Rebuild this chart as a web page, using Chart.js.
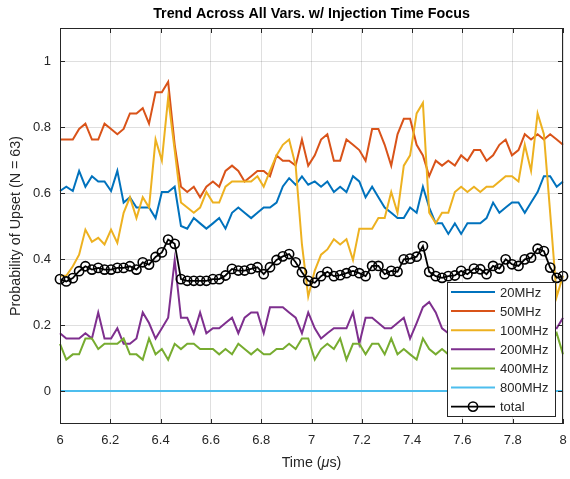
<!DOCTYPE html>
<html>
<head>
<meta charset="utf-8">
<title>Trend Across All Vars. w/ Injection Time Focus</title>
<script src="https://cdn.jsdelivr.net/npm/chart.js@4.4.1/dist/chart.umd.min.js"></script>
<style>
  html, body { margin: 0; padding: 0; background: #fff; }
  canvas { display: block; }
</style>
</head>
<body>
<canvas id="trendChart" width="570" height="479"></canvas>
<script>
// sample times (us), 80 samples between 6 and 8
var times = [
  6.000, 6.025, 6.051, 6.076, 6.101, 6.127, 6.152, 6.177, 6.203, 6.228,
  6.253, 6.278, 6.304, 6.329, 6.354, 6.380, 6.405, 6.430, 6.456, 6.481,
  6.506, 6.532, 6.557, 6.582, 6.608, 6.633, 6.658, 6.684, 6.709, 6.734,
  6.760, 6.785, 6.810, 6.835, 6.861, 6.886, 6.911, 6.937, 6.962, 6.987,
  7.013, 7.038, 7.063, 7.089, 7.114, 7.139, 7.165, 7.190, 7.215, 7.241,
  7.266, 7.291, 7.317, 7.342, 7.367, 7.392, 7.418, 7.443, 7.468, 7.494,
  7.519, 7.544, 7.570, 7.595, 7.620, 7.646, 7.671, 7.696, 7.722, 7.747,
  7.772, 7.797, 7.823, 7.848, 7.873, 7.899, 7.924, 7.949, 7.975, 8.000
];

var p20MHz = [
  0.606, 0.619, 0.606, 0.667, 0.619, 0.651, 0.635, 0.635, 0.606, 0.667,
  0.571, 0.587, 0.556, 0.556, 0.556, 0.524, 0.603, 0.603, 0.619, 0.500,
  0.492, 0.524, 0.508, 0.492, 0.508, 0.524, 0.492, 0.540, 0.556, 0.540,
  0.524, 0.540, 0.556, 0.556, 0.571, 0.620, 0.645, 0.625, 0.650, 0.625,
  0.635, 0.619, 0.635, 0.603, 0.619, 0.603, 0.651, 0.635, 0.587, 0.619,
  0.587, 0.556, 0.540, 0.524, 0.524, 0.556, 0.540, 0.619, 0.556, 0.508,
  0.508, 0.476, 0.508, 0.476, 0.508, 0.508, 0.508, 0.524, 0.571, 0.540,
  0.556, 0.571, 0.571, 0.540, 0.571, 0.603, 0.651, 0.651, 0.619, 0.635
];

var p50MHz = [
  0.762, 0.762, 0.762, 0.794, 0.810, 0.762, 0.762, 0.810, 0.794, 0.778,
  0.794, 0.841, 0.841, 0.857, 0.810, 0.905, 0.905, 0.937, 0.746, 0.619,
  0.603, 0.619, 0.587, 0.619, 0.635, 0.619, 0.667, 0.683, 0.667, 0.635,
  0.651, 0.667, 0.667, 0.651, 0.714, 0.698, 0.698, 0.683, 0.762, 0.683,
  0.714, 0.762, 0.778, 0.698, 0.698, 0.762, 0.746, 0.730, 0.698, 0.794,
  0.794, 0.746, 0.683, 0.778, 0.825, 0.825, 0.746, 0.714, 0.651, 0.698,
  0.683, 0.698, 0.683, 0.714, 0.698, 0.730, 0.730, 0.698, 0.714, 0.746,
  0.762, 0.714, 0.730, 0.778, 0.762, 0.778, 0.762, 0.778, 0.762, 0.746
];

var p100MHz = [
  0.349, 0.349, 0.378, 0.413, 0.489, 0.452, 0.464, 0.444, 0.489, 0.449,
  0.540, 0.587, 0.524, 0.587, 0.556, 0.762, 0.698, 0.889, 0.730, 0.571,
  0.556, 0.540, 0.556, 0.603, 0.571, 0.571, 0.619, 0.635, 0.635, 0.635,
  0.635, 0.651, 0.619, 0.667, 0.714, 0.746, 0.762, 0.683, 0.444, 0.286,
  0.365, 0.413, 0.429, 0.460, 0.444, 0.460, 0.397, 0.492, 0.492, 0.492,
  0.524, 0.524, 0.603, 0.540, 0.683, 0.714, 0.841, 0.873, 0.540, 0.508,
  0.540, 0.540, 0.603, 0.619, 0.603, 0.619, 0.603, 0.619, 0.619, 0.635,
  0.651, 0.651, 0.635, 0.746, 0.667, 0.841, 0.778, 0.540, 0.286, 0.349
];

var p200MHz = [
  0.175, 0.159, 0.159, 0.159, 0.175, 0.159, 0.238, 0.159, 0.159, 0.190,
  0.143, 0.143, 0.159, 0.238, 0.206, 0.159, 0.190, 0.222, 0.397, 0.222,
  0.222, 0.175, 0.238, 0.175, 0.190, 0.190, 0.206, 0.222, 0.175, 0.222,
  0.238, 0.238, 0.175, 0.254, 0.254, 0.254, 0.238, 0.222, 0.175, 0.238,
  0.190, 0.159, 0.175, 0.190, 0.190, 0.190, 0.238, 0.143, 0.222, 0.222,
  0.206, 0.190, 0.190, 0.206, 0.222, 0.159, 0.206, 0.254, 0.270, 0.238,
  0.190, 0.175, 0.190, 0.206, 0.222, 0.190, 0.206, 0.175, 0.206, 0.222,
  0.190, 0.206, 0.238, 0.206, 0.190, 0.222, 0.206, 0.200, 0.190, 0.222
];

var p400MHz = [
  0.143, 0.095, 0.111, 0.111, 0.159, 0.159, 0.127, 0.143, 0.143, 0.143,
  0.159, 0.111, 0.111, 0.095, 0.159, 0.111, 0.127, 0.095, 0.143, 0.127,
  0.143, 0.143, 0.127, 0.127, 0.127, 0.111, 0.127, 0.111, 0.143, 0.127,
  0.111, 0.127, 0.111, 0.111, 0.127, 0.127, 0.143, 0.127, 0.159, 0.159,
  0.095, 0.127, 0.143, 0.127, 0.159, 0.095, 0.143, 0.143, 0.111, 0.143,
  0.143, 0.111, 0.159, 0.111, 0.127, 0.111, 0.095, 0.159, 0.127, 0.111,
  0.127, 0.111, 0.127, 0.143, 0.127, 0.143, 0.127, 0.111, 0.143, 0.127,
  0.159, 0.143, 0.127, 0.143, 0.127, 0.143, 0.159, 0.143, 0.175, 0.111
];

var p800MHz = [
  0, 0, 0, 0, 0, 0, 0, 0, 0, 0,
  0, 0, 0, 0, 0, 0, 0, 0, 0, 0,
  0, 0, 0, 0, 0, 0, 0, 0, 0, 0,
  0, 0, 0, 0, 0, 0, 0, 0, 0, 0,
  0, 0, 0, 0, 0, 0, 0, 0, 0, 0,
  0, 0, 0, 0, 0, 0, 0, 0, 0, 0,
  0, 0, 0, 0, 0, 0, 0, 0, 0, 0,
  0, 0, 0, 0, 0, 0, 0, 0, 0, 0
];

var pTotal = [
  0.339, 0.332, 0.342, 0.363, 0.378, 0.368, 0.373, 0.368, 0.368, 0.373,
  0.373, 0.378, 0.368, 0.390, 0.383, 0.406, 0.420, 0.459, 0.446, 0.339,
  0.334, 0.334, 0.334, 0.334, 0.339, 0.339, 0.350, 0.370, 0.365, 0.365,
  0.370, 0.375, 0.354, 0.375, 0.397, 0.408, 0.415, 0.390, 0.360, 0.334,
  0.328, 0.348, 0.361, 0.348, 0.351, 0.357, 0.364, 0.357, 0.348, 0.379,
  0.379, 0.354, 0.364, 0.361, 0.399, 0.401, 0.407, 0.439, 0.361, 0.348,
  0.343, 0.348, 0.350, 0.364, 0.354, 0.371, 0.369, 0.354, 0.379, 0.371,
  0.399, 0.384, 0.379, 0.399, 0.404, 0.431, 0.424, 0.374, 0.343, 0.348
];

var seriesNames = ['20MHz', '50MHz', '100MHz', '200MHz', '400MHz', '800MHz', 'total'];
var seriesColors = ['#0072BD', '#D95319', '#EDB120', '#7E2F8E', '#77AC30', '#4DBEEE', '#000000'];
var xTicks = [6, 6.2, 6.4, 6.6, 6.8, 7, 7.2, 7.4, 7.6, 7.8, 8];
var yTicks = [0, 0.2, 0.4, 0.6, 0.8, 1];

var FONT = "'Liberation Sans', Arial, Helvetica, sans-serif";
var INK = '#262626';

function pairs(values) {
    return times.map(function (t, i) { return { x: t, y: values[i] }; });
}

var allValues = [p20MHz, p50MHz, p100MHz, p200MHz, p400MHz, p800MHz, pTotal];

var datasets = allValues.map(function (vals, k) {
    var isTotal = seriesNames[k] === 'total';
    return {
        label: seriesNames[k],
        data: pairs(vals),
        borderColor: seriesColors[k],
        backgroundColor: seriesColors[k],
        borderWidth: isTotal ? 1.8 : 2,
        pointRadius: isTotal ? 4.6 : 0,
        pointBorderWidth: 1.6,
        pointBorderColor: '#000',
        pointBackgroundColor: 'rgba(0,0,0,0)',
        tension: 0,
        fill: false,
        clip: false,
        order: seriesNames.length - 1 - k   // later series drawn on top, like MATLAB
    };
});

// axes box, inward ticks, title, axis labels and the legend box
var matlabFrame = {
    id: 'matlabFrame',
    afterDraw: function (chart) {
        var c = chart.ctx;
        var a = chart.chartArea;
        var xs = chart.scales.x, ys = chart.scales.y;
        c.save();

        c.strokeStyle = INK;
        c.lineWidth = 1;
        c.beginPath();
        xTicks.forEach(function (v) {
            var px = Math.round(xs.getPixelForValue(v)) + 0.5;
            c.moveTo(px, a.bottom); c.lineTo(px, a.bottom - 5);
            c.moveTo(px, a.top); c.lineTo(px, a.top + 5);
        });
        yTicks.forEach(function (v) {
            var py = Math.round(ys.getPixelForValue(v)) + 0.5;
            c.moveTo(a.left, py); c.lineTo(a.left + 5, py);
            c.moveTo(a.right, py); c.lineTo(a.right - 5, py);
        });
        c.stroke();
        c.strokeRect(a.left + 0.5, a.top + 0.5, a.right - a.left - 1, a.bottom - a.top - 1);

        // title
        var midX = (a.left + a.right) / 2;
        c.fillStyle = '#000';
        c.font = 'bold 14.3px ' + FONT;
        c.textAlign = 'center';
        c.textBaseline = 'middle';
        c.fillText('Trend Across All Vars. w/ Injection Time Focus', midX, 14);

        // x label with italic mu
        c.fillStyle = INK;
        var normal = '14.3px ' + FONT, italic = 'italic 14.3px ' + FONT;
        var parts = [['Time (', normal], ['\u03bc', italic], ['s)', normal]];
        var total = 0;
        parts.forEach(function (p) { c.font = p[1]; total += c.measureText(p[0]).width; });
        var x0 = midX - total / 2;
        c.textAlign = 'left';
        parts.forEach(function (p) {
            c.font = p[1];
            c.fillText(p[0], x0, 463);
            x0 += c.measureText(p[0]).width;
        });

        // y label
        c.save();
        c.translate(16, (a.top + a.bottom) / 2);
        c.rotate(-Math.PI / 2);
        c.font = normal;
        c.textAlign = 'center';
        c.fillText('Probability of Upset (N = 63)', 0, 0);
        c.restore();

        // legend
        var lw = 109, lh = 135;
        var lx = a.right - 7 - lw, ly = a.bottom - 7 - lh;
        c.fillStyle = '#fff';
        c.fillRect(lx, ly, lw, lh);
        c.strokeStyle = INK;
        c.lineWidth = 1;
        c.strokeRect(lx + 0.5, ly + 0.5, lw - 1, lh - 1);
        c.font = '13px ' + FONT;
        c.textAlign = 'left';
        c.textBaseline = 'middle';
        chart.data.datasets.forEach(function (ds, k) {
            var ry = ly + 10 + k * 19.1;
            c.strokeStyle = ds.borderColor;
            c.lineWidth = ds.borderWidth;
            c.beginPath();
            c.moveTo(lx + 4, ry);
            c.lineTo(lx + 48, ry);
            c.stroke();
            if (ds.pointRadius > 0) {
                c.lineWidth = ds.pointBorderWidth;
                c.beginPath();
                c.arc(lx + 26, ry, ds.pointRadius, 0, Math.PI * 2);
                c.stroke();
            }
            c.fillStyle = INK;
            c.fillText(ds.label, lx + 53, ry + 1);
        });

        c.restore();
    }
};

var ctx = document.getElementById('trendChart').getContext('2d');

var chart = new Chart(ctx, {
    type: 'line',
    data: { datasets: datasets },
    options: {
        responsive: false,
        animation: false,
        events: [],
        layout: { padding: { left: 0, right: 7, top: 28, bottom: 0 } },
        scales: {
            x: {
                type: 'linear',
                min: 6,
                max: 8,
                afterBuildTicks: function (s) { s.ticks = xTicks.map(function (v) { return { value: v }; }); },
                afterFit: function (s) { s.height = 55; s.paddingLeft = 0; s.paddingRight = 0; },
                grid: { color: 'rgba(38,38,38,0.15)', drawTicks: false },
                border: { display: false },
                ticks: {
                    padding: 9,
                    color: INK,
                    font: { family: FONT, size: 13 },
                    maxRotation: 0,
                    callback: function (v) { return String(Math.round(v * 10) / 10); }
                }
            },
            y: {
                type: 'linear',
                min: -0.1,
                max: 1.1,
                afterBuildTicks: function (s) { s.ticks = yTicks.map(function (v) { return { value: v }; }); },
                afterFit: function (s) { s.width = 60; s.paddingTop = 0; s.paddingBottom = 0; },
                grid: { color: 'rgba(38,38,38,0.15)', drawTicks: false },
                border: { display: false },
                ticks: {
                    padding: 9,
                    color: INK,
                    font: { family: FONT, size: 13 },
                    callback: function (v) { return String(Math.round(v * 10) / 10); }
                }
            }
        },
        plugins: {
            legend: { display: false },
            title: { display: false },
            tooltip: { enabled: false }
        }
    },
    plugins: [matlabFrame]
});
</script>
</body>
</html>
